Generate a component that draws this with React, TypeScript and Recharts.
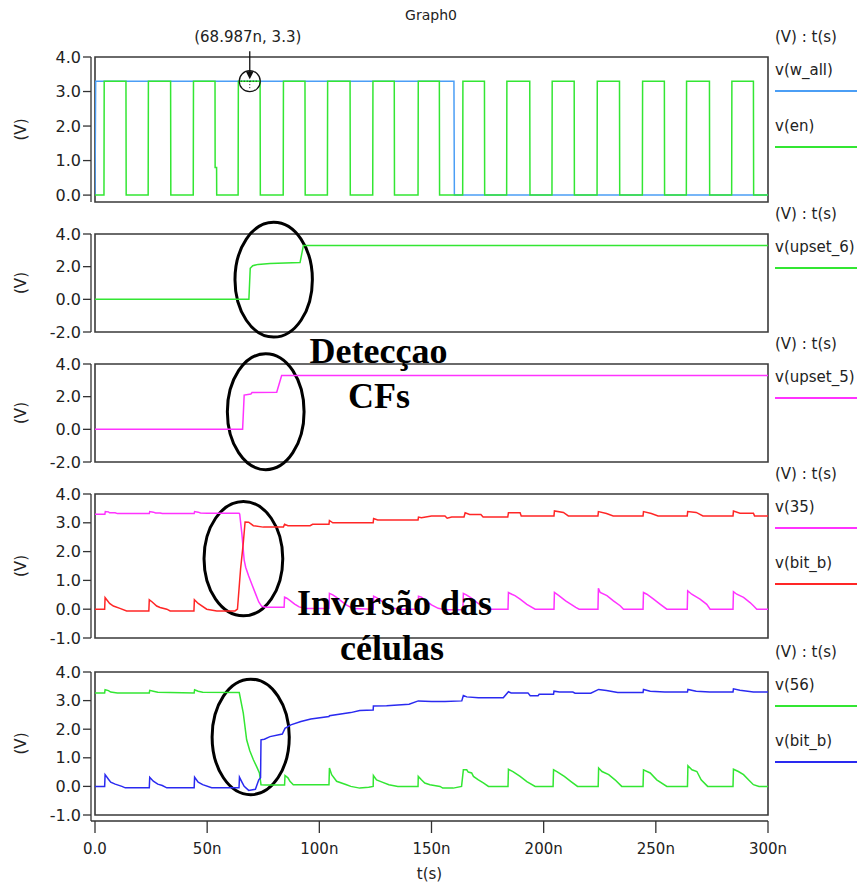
import React from 'react';
import { LineChart, Line, XAxis, YAxis, ReferenceArea, ReferenceDot, Legend } from 'recharts';

type P = [number, number];

// ---------- axis ticks ----------
const timeTicks = [0, 50, 100, 150, 200, 250, 300];
const ticksP1 = [0, 1, 2, 3, 4];
const ticksUpset = [-2, 0, 2, 4];
const ticksCell = [-1, 0, 1, 2, 3, 4];

// ---------- panel 1 ----------
const vWAll: P[] = [[0, 0], [0.3, 3.3], [160, 3.3], [160.2, 0], [300, 0]];
const vEn: P[] = [
  [0, 0], [4, 0], [4.1, 3.3], [13.8, 3.3], [13.9, 0], [23.7, 0], [23.8, 3.3], [33.7, 3.3], [33.8, 0],
  [43.8, 0], [43.9, 3.3], [53.5, 3.3], [53.55, 0.8], [54.2, 0.8], [54.25, 0], [63.8, 0], [63.9, 3.3],
  [73.6, 3.3], [73.7, 0], [83.9, 0], [84, 3.3], [93.6, 3.3], [93.7, 0], [103.6, 0], [103.7, 3.3],
  [113.7, 3.3], [113.8, 0], [123.8, 0], [123.9, 3.3], [133.4, 3.3], [133.5, 0], [144, 0], [144.1, 3.3],
  [153.5, 3.3], [153.6, 0], [163.9, 0], [164, 3.3], [173.6, 3.3], [173.7, 0], [183.5, 0], [183.6, 3.3],
  [193.8, 3.3], [193.9, 0], [203.7, 0], [203.8, 3.3], [213.6, 3.3], [213.7, 0], [223.8, 0], [223.9, 3.3],
  [233.8, 3.3], [233.9, 0], [244, 0], [244.1, 3.3], [253.8, 3.3], [253.9, 0], [263.6, 0], [263.7, 3.3],
  [273.9, 3.3], [274, 0], [283.8, 0], [283.9, 3.3], [293.5, 3.3], [293.6, 0], [300, 0],
];

// ---------- panel 2 / 3 ----------
const vUpset6: P[] = [
  [0, 0], [68.6, 0], [69.2, 1.9], [70.3, 2.06], [72.7, 2.14], [78, 2.2], [91.4, 2.25], [92.9, 3.3], [300, 3.3],
];
const vUpset5: P[] = [
  [0, 0], [65.8, 0], [66.5, 2.1], [69.5, 2.16], [70, 2.25], [81, 2.27], [83.2, 3.3], [300, 3.3],
];

// ---------- panel 4 ----------
const v35: P[] = [
  [0, 3.3], [4.4, 3.3], [4.6, 3.39], [6, 3.38], [6.5, 3.35], [9, 3.35], [10, 3.32], [24.2, 3.32],
  [24.4, 3.39], [26, 3.37], [27, 3.34], [29, 3.34], [30, 3.32], [44.2, 3.32], [44.4, 3.39], [46, 3.37],
  [47, 3.34], [50, 3.33], [64.2, 3.33], [64.5, 3.3], [65.5, 2.6], [66.5, 1.7], [67.2, 1.45], [68.5, 1.15],
  [70, 0.85], [71.5, 0.55], [73, 0.25], [74.3, 0.1], [76, 0.07], [84.3, 0.07], [84.5, 0.42], [85.5, 0.38],
  [87, 0.3], [89, 0.18], [91, 0.08], [94, 0.02], [104.3, 0.02], [104.5, 0.55], [106, 0.5], [107.5, 0.42],
  [109.5, 0.3], [112, 0.15], [115, 0.02], [124, 0], [124.2, 0.45], [125.5, 0.4], [127.5, 0.3], [130, 0.15],
  [133, 0.03], [136, 0], [144, 0], [144.2, 0.45], [145.5, 0.42], [147.5, 0.3], [150, 0.15], [153, 0.03],
  [156, -0.02], [164, -0.02], [164.2, 0.55], [165.5, 0.5], [167.5, 0.4], [170, 0.25], [172.5, 0.1],
  [175, 0], [184.1, 0], [184.3, 0.58], [185.8, 0.52], [187.2, 0.47], [189.5, 0.35], [192.5, 0.17],
  [196.2, 0], [204.6, 0], [204.8, 0.58], [206.8, 0.47], [209.8, 0.29], [214.3, 0.06], [215.8, 0],
  [224.2, 0], [224.4, 0.73], [225.2, 0.58], [228.2, 0.47], [231.1, 0.29], [234.1, 0.12], [235.6, 0],
  [244.3, 0], [244.5, 0.58], [246, 0.52], [249, 0.35], [252, 0.17], [254.9, 0], [264, 0], [264.2, 0.64],
  [266, 0.52], [269.7, 0.35], [272.7, 0.17], [274.2, 0], [284.4, 0], [284.6, 0.61], [286.1, 0.52],
  [289.1, 0.41], [292, 0.23], [293.5, 0.12], [295, 0], [300, 0],
];
const vBitB4: P[] = [
  [0, 0], [4.3, 0], [4.5, 0.4], [5.5, 0.3], [6.5, 0.2], [8.2, 0.11], [11.1, 0.03], [14.1, -0.06],
  [24, -0.06], [24.2, 0.33], [25.5, 0.25], [27.5, 0.11], [29, 0.06], [32, 0], [33.5, -0.06], [44.1, -0.06],
  [44.3, 0.33], [46, 0.2], [49.8, 0], [54.3, -0.06], [62.4, -0.06], [63.5, 0], [64.9, 1.4], [66.1, 2.3],
  [66.9, 3.03], [68.5, 3.02], [70.6, 2.9], [75, 2.85], [84, 2.85], [84.5, 2.95], [86, 2.9], [95.9, 2.9],
  [97, 2.95], [104.3, 2.95], [104.5, 3.08], [106, 3.0], [124, 3.0], [124.2, 3.15], [126, 3.1], [144, 3.1],
  [144.2, 3.2], [145.5, 3.18], [150, 3.24], [156, 3.24], [157, 3.16], [159, 3.2], [164.5, 3.2],
  [165, 3.35], [167, 3.29], [172, 3.29], [173, 3.2], [184, 3.2], [184.3, 3.35], [189.5, 3.35], [190, 3.24],
  [204.6, 3.24], [204.8, 3.41], [208.8, 3.36], [211, 3.24], [224.2, 3.24], [224.4, 3.39], [228, 3.32],
  [231, 3.24], [244.3, 3.24], [244.5, 3.39], [248, 3.32], [251, 3.24], [264, 3.24], [264.2, 3.39],
  [268, 3.36], [271, 3.24], [284.4, 3.24], [284.6, 3.41], [287.5, 3.33], [293.5, 3.33], [294, 3.24],
  [300, 3.24],
];

// ---------- panel 5 ----------
const v56: P[] = [
  [0, 3.27], [4.3, 3.27], [4.5, 3.38], [6, 3.35], [7, 3.3], [10, 3.27], [24.2, 3.27], [24.4, 3.36],
  [26, 3.33], [28, 3.29], [44.2, 3.27], [44.4, 3.38], [46, 3.33], [48, 3.29], [64.3, 3.28], [66.1, 2.56],
  [67.6, 1.63], [69, 1.25], [70.6, 0.93], [72, 0.7], [73.3, 0.47], [74, 0.06], [76, 0.05], [84.5, 0.05],
  [84.7, 0.38], [86, 0.3], [86.9, 0.18], [88.4, 0.06], [104.3, 0.06], [104.5, 0.64], [105.5, 0.41],
  [107.7, 0.18], [112.1, 0.06], [114, 0], [118, -0.06], [122, -0.03], [124, 0], [124.1, 0.38],
  [125.5, 0.23], [128, 0.15], [131, 0.06], [135, 0], [144, 0], [144.1, 0.35], [145.5, 0.23], [147, 0.12],
  [149.3, 0.06], [153.8, 0], [155, -0.06], [159.7, -0.06], [163.4, 0], [164.2, 0.58], [165.7, 0.58],
  [166.4, 0.5], [167.9, 0.47], [168.7, 0.35], [170.9, 0.23], [173.1, 0.12], [175.4, 0], [184.1, 0],
  [184.3, 0.6], [186.3, 0.52], [189.5, 0.35], [192.5, 0.17], [196.2, 0], [204.2, 0], [204.4, 0.58],
  [205.9, 0.52], [209.2, 0.35], [212.2, 0.17], [215.1, 0], [224.3, 0], [224.5, 0.64], [226, 0.52],
  [229, 0.41], [231.8, 0.23], [234.8, 0], [244.3, 0], [244.5, 0.58], [247.5, 0.47], [250.4, 0.23],
  [254.9, 0], [264.1, 0], [264.3, 0.72], [266.1, 0.58], [268.3, 0.52], [270.2, 0.23], [273.1, 0],
  [284.4, 0], [284.6, 0.6], [286.8, 0.52], [289.1, 0.41], [291.3, 0.23], [293.5, 0.06], [296, 0],
  [300, 0],
];
const vBitB5: P[] = [
  [0, 0], [4.3, 0], [4.5, 0.41], [6, 0.25], [7, 0.15], [9, 0.08], [12, 0], [13.5, -0.05], [24.2, -0.05],
  [24.4, 0.32], [26, 0.18], [28, 0.08], [30, 0.03], [32, -0.05], [44.2, -0.05], [44.4, 0.32], [46, 0.15],
  [48, 0.06], [52, -0.05], [64.2, -0.05], [64.4, 0.32], [65.5, 0.15], [66.5, 0], [68.5, -0.14],
  [71.5, -0.1], [73, 0.23], [73.8, 0.3], [74, 1.63], [75.5, 1.65], [78, 1.74], [83.5, 1.83], [84.7, 2.03],
  [87.3, 2.15], [91.8, 2.27], [96.2, 2.36], [104.3, 2.44], [104.5, 2.47], [114, 2.58], [118, 2.65],
  [124, 2.67], [124.1, 2.81], [130, 2.82], [140, 2.87], [144.1, 2.99], [150, 2.97], [156, 2.97],
  [163.5, 2.99], [164.2, 3.18], [165.7, 3.13], [170.9, 3.1], [182, 3.1], [184.3, 3.31], [185.5, 3.27],
  [193, 3.27], [194, 3.17], [197.5, 3.17], [198, 3.22], [204.4, 3.22], [204.6, 3.33], [207, 3.3],
  [213, 3.3], [214, 3.26], [221, 3.26], [224.5, 3.39], [228, 3.35], [233, 3.28], [244.3, 3.28],
  [244.5, 3.39], [247.5, 3.33], [254, 3.3], [264.1, 3.3], [264.3, 3.39], [268, 3.33], [274, 3.3],
  [284.4, 3.3], [284.6, 3.41], [287.5, 3.36], [293.5, 3.3], [300, 3.3],
];

// ---------- annotation anchors (data units) ----------
const cursorPoint = { t: 68.987, v: 3.3, label: '(68.987n, 3.3)' };
const ellipse2 = { t1: 62.4, t2: 96.9, v1: -2.31, v2: 4.72 };
const ellipse3 = { t1: 59.0, t2: 93.2, v1: -2.47, v2: 4.63 };
const ellipse4 = { t1: 48.6, t2: 83.7, v1: -0.23, v2: 3.74 };
const ellipse5 = { t1: 52.2, t2: 86.6, v1: -0.29, v2: 3.75 };

const C = {
  wall: '#4b9ef5',
  green: '#33e633',
  magenta: '#ff33ff',
  red: '#ff2626',
  blue: '#2a2af0',
  axis: '#333333',
};

const FONT = '"DejaVu Sans", Arial, sans-serif';

const toPts = (a: P[]) => a.map(([t, v]) => ({ t, v }));

type Series = { name: string; color: string; data: P[] };
type Ell = { t1: number; t2: number; v1: number; v2: number };

const EllipseShape = (p: any) => {
  const w = Math.abs(p.width);
  const h = Math.abs(p.height);
  const x = Math.min(p.x, p.x + p.width);
  const y = Math.min(p.y, p.y + p.height);
  return (
    <ellipse cx={x + w / 2} cy={y + h / 2} rx={w / 2} ry={h / 2} fill="none" stroke="#000" strokeWidth={3} />
  );
};

const CursorShape = (p: any) => {
  const { cx, cy } = p;
  return (
    <g>
      <circle cx={cx} cy={cy} r={10.5} fill="none" stroke="#111" strokeWidth={1.2} />
      <line x1={cx - 9} y1={cy} x2={cx + 9} y2={cy} stroke="#111" strokeWidth={1} strokeDasharray="1 2" />
      <line x1={cx} y1={cy} x2={cx} y2={cy + 9} stroke="#111" strokeWidth={1} strokeDasharray="1 2" />
      <line x1={cx} y1={cy - 30} x2={cx} y2={cy - 8} stroke="#111" strokeWidth={1.3} />
      <polygon points={`${cx - 4},${cy - 10} ${cx + 4},${cy - 10} ${cx},${cy - 2}`} fill="#111" />
      <text x={cx - 2} y={cy - 39} textAnchor="middle" fontSize={15} fontFamily={FONT} fill="#222">
        {cursorPoint.label}
      </text>
    </g>
  );
};

const YLabel = (props: any) => {
  const vb = props.viewBox || { x: 0, y: 0, width: 0, height: 0 };
  const cx = 21;
  const cy = vb.y + (vb.height - (props.padB || 0)) / 2;
  return (
    <text
      x={cx}
      y={cy}
      transform={`rotate(-90 ${cx} ${cy})`}
      textAnchor="middle"
      dominantBaseline="central"
      fontSize={15}
      fontFamily={FONT}
      fill="#222"
    >
      (V)
    </text>
  );
};

const makeLegend = (items: Series[]) => () => (
  <div style={{ position: 'relative', width: 84, height: 130, fontFamily: FONT, fontSize: 15, color: '#222' }}>
    <div style={{ position: 'absolute', left: 0, top: 0, lineHeight: '18px', whiteSpace: 'nowrap' }}>(V) : t(s)</div>
    {items.map((s, i) => (
      <React.Fragment key={s.name}>
        <div style={{ position: 'absolute', left: 0, top: 33 + 56 * i, lineHeight: '18px', whiteSpace: 'nowrap' }}>
          {s.name}
        </div>
        <div style={{ position: 'absolute', left: 0, top: 61.5 + 56 * i, width: 82, height: 2, background: s.color }} />
      </React.Fragment>
    ))}
  </div>
);

function Panel(props: {
  top: number;
  height: number;
  domain: [number, number];
  ticks: number[];
  series: Series[];
  ellipse?: Ell;
  bottomAxis?: boolean;
  cursor?: boolean;
}) {
  const { top, height, domain, ticks, series, ellipse, bottomAxis, cursor } = props;
  const mt = 30;
  const mb = bottomAxis ? 0 : 20;
  const padB = bottomAxis ? 6 : 0;
  const axisH = 62;
  const h = mt + height + padB + (bottomAxis ? axisH : 0) + mb;
  return (
    <div style={{ position: 'absolute', left: 0, top: top - mt, width: 859, height: h }}>
      <LineChart width={859} height={h} margin={{ top: mt, right: 91, bottom: mb, left: 0 }}>
        <XAxis
          type="number"
          dataKey="t"
          domain={[0, 300]}
          ticks={timeTicks}
          allowDataOverflow
          padding={{ left: 4, right: 0 }}
          hide={!bottomAxis}
          height={axisH}
          tickSize={12}
          tickMargin={10}
          interval={0}
          stroke={C.axis}
          strokeWidth={1.3}
          tick={{ fontSize: 15, fill: '#222', fontFamily: FONT }}
          tickFormatter={(v: number) => (v === 0 ? '0.0' : `${v}n`)}
          label={{ value: 't(s)', position: 'insideBottom', offset: 4, fontSize: 15, fill: '#222', fontFamily: FONT }}
        />
        <YAxis
          type="number"
          domain={domain}
          ticks={ticks}
          interval={0}
          width={91}
          tickSize={8}
          tickMargin={2}
          padding={{ top: 0, bottom: padB }}
          stroke={C.axis}
          strokeWidth={1.3}
          tick={{ fontSize: 16, fill: '#222', fontFamily: FONT }}
          tickFormatter={(v: number) => v.toFixed(1)}
          label={<YLabel padB={padB} />}
        />
        <ReferenceArea
          x1={0}
          x2={300}
          y1={domain[0]}
          y2={domain[1]}
          fill="none"
          fillOpacity={0}
          stroke="#3a3a3a"
          strokeWidth={1.6}
          ifOverflow="visible"
        />
        {series.map((s) => (
          <Line
            key={s.name}
            data={toPts(s.data)}
            dataKey="v"
            name={s.name}
            type="linear"
            stroke={s.color}
            strokeWidth={1.5}
            dot={false}
            activeDot={false}
            isAnimationActive={false}
          />
        ))}
        {ellipse && (
          <ReferenceArea
            x1={ellipse.t1}
            x2={ellipse.t2}
            y1={ellipse.v1}
            y2={ellipse.v2}
            ifOverflow="visible"
            shape={EllipseShape}
          />
        )}
        {cursor && (
          <ReferenceDot x={cursorPoint.t} y={cursorPoint.v} r={10} ifOverflow="visible" shape={CursorShape} />
        )}
        <Legend
          layout="horizontal"
          verticalAlign="middle"
          align="center"
          content={makeLegend(series)}
          wrapperStyle={{ left: 775, top: mt - 29, width: 84, height: 130 }}
        />
      </LineChart>
    </div>
  );
}

export default function App() {
  return (
    <div
      style={{
        position: 'absolute',
        left: 0,
        top: 0,
        width: 859,
        height: 884,
        background: '#fff',
        overflow: 'hidden',
        fontFamily: FONT,
      }}
    >
      <style>{'.recharts-surface{overflow:visible}.recharts-wrapper{overflow:visible}'}</style>
      <Panel
        top={57}
        height={145}
        domain={[-0.2, 4]}
        ticks={ticksP1}
        cursor
        series={[
          { name: 'v(w_all)', color: C.wall, data: vWAll },
          { name: 'v(en)', color: C.green, data: vEn },
        ]}
      />
      <Panel
        top={234}
        height={98}
        domain={[-2, 4]}
        ticks={ticksUpset}
        ellipse={ellipse2}
        series={[{ name: 'v(upset_6)', color: C.green, data: vUpset6 }]}
      />
      <Panel
        top={364}
        height={98}
        domain={[-2, 4]}
        ticks={ticksUpset}
        ellipse={ellipse3}
        series={[{ name: 'v(upset_5)', color: C.magenta, data: vUpset5 }]}
      />
      <Panel
        top={494}
        height={144}
        domain={[-1, 4]}
        ticks={ticksCell}
        ellipse={ellipse4}
        series={[
          { name: 'v(35)', color: C.magenta, data: v35 },
          { name: 'v(bit_b)', color: C.red, data: vBitB4 },
        ]}
      />
      <Panel
        top={672}
        height={143}
        domain={[-1, 4]}
        ticks={ticksCell}
        ellipse={ellipse5}
        bottomAxis
        series={[
          { name: 'v(56)', color: C.green, data: v56 },
          { name: 'v(bit_b)', color: C.blue, data: vBitB5 },
        ]}
      />
      <svg
        width={859}
        height={884}
        style={{ position: 'absolute', left: 0, top: 0, pointerEvents: 'none' }}
      >
        <text x={431} y={20} textAnchor="middle" fontSize={14} fontFamily={FONT} fill="#222">
          Graph0
        </text>
        <g fontFamily='"Liberation Serif", "Times New Roman", serif' fontWeight="bold" fontSize={36} fill="#000" textAnchor="middle">
          <text x={378.5} y={363}>Detecçao</text>
          <text x={379} y={408}>CFs</text>
          <text x={394.5} y={615}>Inversão das</text>
          <text x={392} y={660}>células</text>
        </g>
      </svg>
    </div>
  );
}
